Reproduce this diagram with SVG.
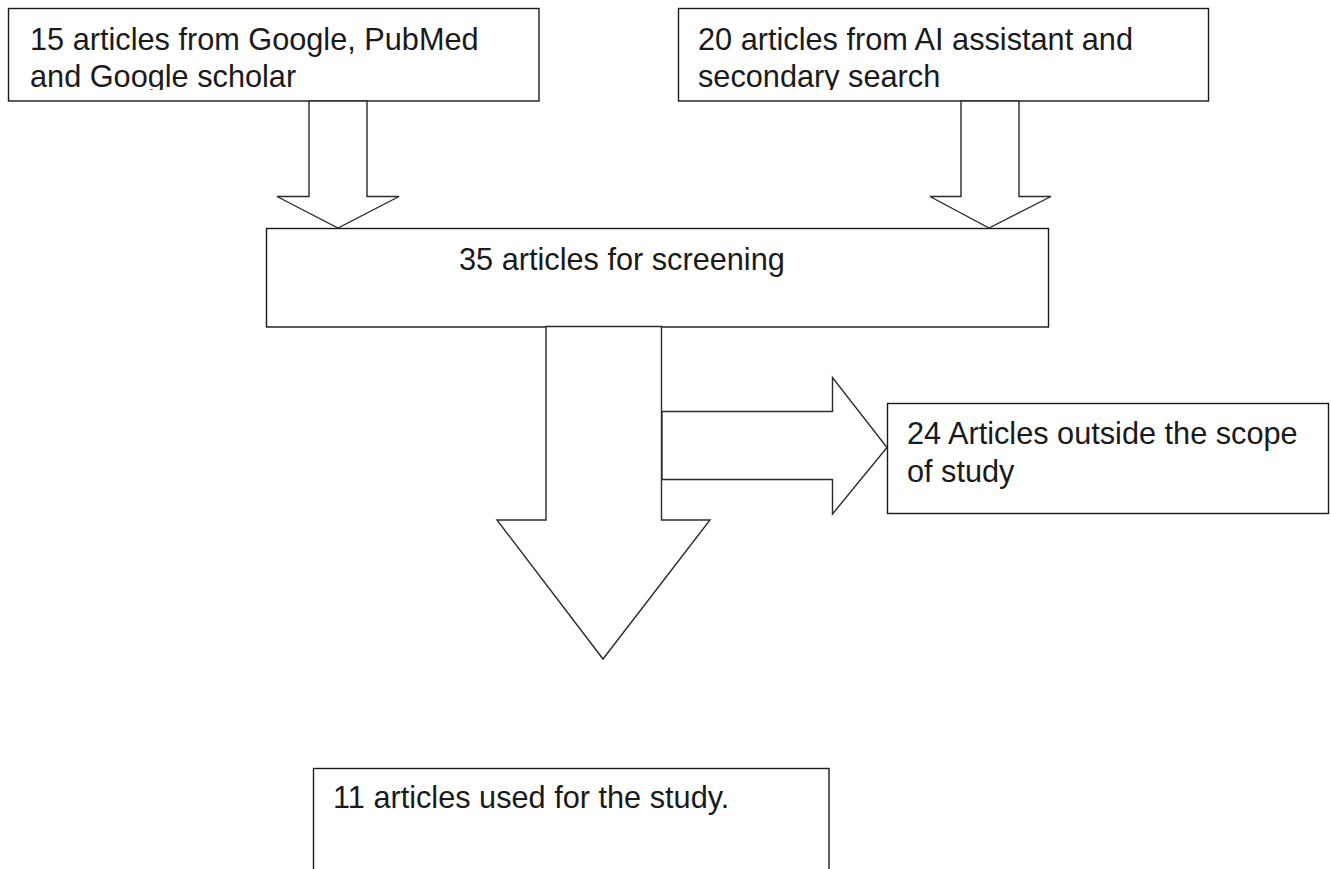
<svg xmlns="http://www.w3.org/2000/svg" width="1331" height="869" viewBox="0 0 1331 869">
  <style>
    .box { fill: #ffffff; stroke: #1a1a1a; stroke-width: 1.4; }
    .arrow { fill: #ffffff; stroke: #2a2a2a; stroke-width: 1.4; stroke-linejoin: miter; }
    .t { font-family: "Liberation Sans", Arial, sans-serif; font-size: 30.7px; fill: #1a1a1a; }
  </style>
  <defs>
    <clipPath id="clip1"><rect x="8" y="8" width="532" height="82"/></clipPath>
    <clipPath id="clip2"><rect x="678" y="8" width="531" height="82"/></clipPath>
  </defs>
  <rect width="1331" height="869" fill="#ffffff"/>

  <g id="node-sources-google">
    <rect class="box" x="8.5" y="8.5" width="530.5" height="92.5"/>
    <g clip-path="url(#clip1)">
      <text class="t" x="30" y="50">15 articles from Google, PubMed</text>
      <text class="t" x="30" y="87">and Google scholar</text>
    </g>
  </g>

  <g id="node-sources-ai">
    <rect class="box" x="678.5" y="8.5" width="530" height="92.5"/>
    <g clip-path="url(#clip2)">
      <text class="t" x="698" y="50">20 articles from AI assistant and</text>
      <text class="t" x="698" y="87">secondary search</text>
    </g>
  </g>

  <g id="node-screening">
    <rect class="box" x="266.5" y="228.5" width="782" height="98.5"/>
    <text class="t" x="459" y="270">35 articles for screening</text>
  </g>

  <g id="node-excluded">
    <rect class="box" x="887.5" y="403.5" width="441" height="110"/>
    <text class="t" x="907" y="444">24 Articles outside the scope</text>
    <text class="t" x="907" y="482">of study</text>
  </g>

  <g id="node-included">
    <rect class="box" x="313.5" y="768.5" width="515.5" height="110"/>
    <text class="t" x="333" y="808">11 articles used for the study.</text>
  </g>

  <g id="connectors">
    <polygon class="arrow" points="309,101 367,101 367,196.5 399,196.5 338,228 277,196.5 309,196.5"/>
    <polygon class="arrow" points="961,101 1019,101 1019,196.5 1051,196.5 989,228 930,196.5 961,196.5"/>
    <polygon class="arrow" points="546,326.5 661.5,326.5 661.5,520 710,520 603,659 497,520 546,520"/>
    <polygon class="arrow" points="662,411.5 832.5,411.5 832.5,377.5 887,447.5 832.5,514 832.5,479.5 662,479.5"/>
  </g>
</svg>
